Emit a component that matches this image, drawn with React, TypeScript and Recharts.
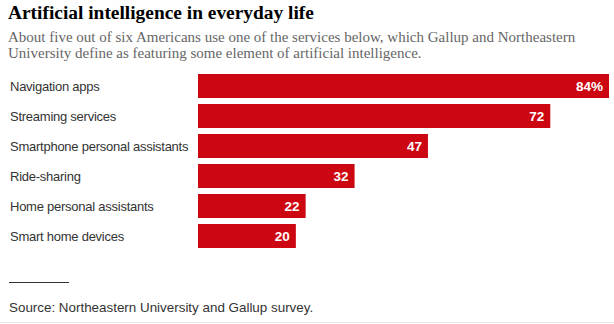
import React from "react";
import { BarChart, Bar, XAxis, YAxis, LabelList } from "recharts";

const categories = [
  "Navigation apps",
  "Streaming services",
  "Smartphone personal assistants",
  "Ride-sharing",
  "Home personal assistants",
  "Smart home devices",
];
const values = [84, 72, 47, 32, 22, 20];

const data = categories.map((name, i) => ({ name, value: values[i] }));

const sans = "'Liberation Sans', Arial, sans-serif";
const serif = "'Liberation Serif', 'Times New Roman', serif";

const CategoryTick = (props: any) => {
  const { y, payload } = props;
  return (
    <text x={10} y={y} dy={4.5} textAnchor="start" fill="#333" fontSize={13} letterSpacing={-0.25} fontFamily={sans}>
      {payload.value}
    </text>
  );
};

export default function App() {
  return (
    <div style={{ position: "absolute", left: 0, top: 0, width: 614, height: 324, background: "#fff", overflow: "hidden" }}>
      <div style={{ position: "absolute", left: 8, top: 2, fontFamily: serif, fontWeight: 700, fontSize: 19.4, color: "#000", whiteSpace: "nowrap" }}>
        Artificial intelligence in everyday life
      </div>
      <div style={{ position: "absolute", left: 8, top: 29, width: 600, fontFamily: serif, fontSize: 15, lineHeight: "16px", color: "#666" }}>
        About five out of six Americans use one of the services below, which Gallup and Northeastern
        <br />
        University define as featuring some element of artificial intelligence.
      </div>
      <div style={{ position: "absolute", left: 0, top: 0 }}>
        <BarChart
          width={614}
          height={324}
          data={data}
          layout="vertical"
          margin={{ top: 71, right: 5, bottom: 73, left: 0 }}
        >
          <XAxis type="number" domain={[0, 84]} hide />
          <YAxis
            type="category"
            dataKey="name"
            width={198}
            axisLine={false}
            tickLine={false}
            tick={<CategoryTick />}
            interval={0}
          />
          <Bar dataKey="value" fill="#cc0711" barSize={24} isAnimationActive={false}>
            <LabelList
              dataKey="value"
              position="insideRight"
              offset={6}
              fill="#fff"
              fontSize={13.5}
              fontWeight={700}
              fontFamily={sans}
              formatter={(v: any) => (v === values[0] ? `${v}%` : `${v}`)}
            />
          </Bar>
        </BarChart>
      </div>
      <div style={{ position: "absolute", left: 9, top: 282, width: 60, height: 1, background: "#333" }} />
      <div style={{ position: "absolute", left: 9, top: 300, fontFamily: sans, fontSize: 13.4, color: "#333", whiteSpace: "nowrap" }}>
        Source: Northeastern University and Gallup survey.
      </div>
      <div style={{ position: "absolute", left: 0, top: 322, width: 614, height: 1, background: "#e8e8e8" }} />
    </div>
  );
}
